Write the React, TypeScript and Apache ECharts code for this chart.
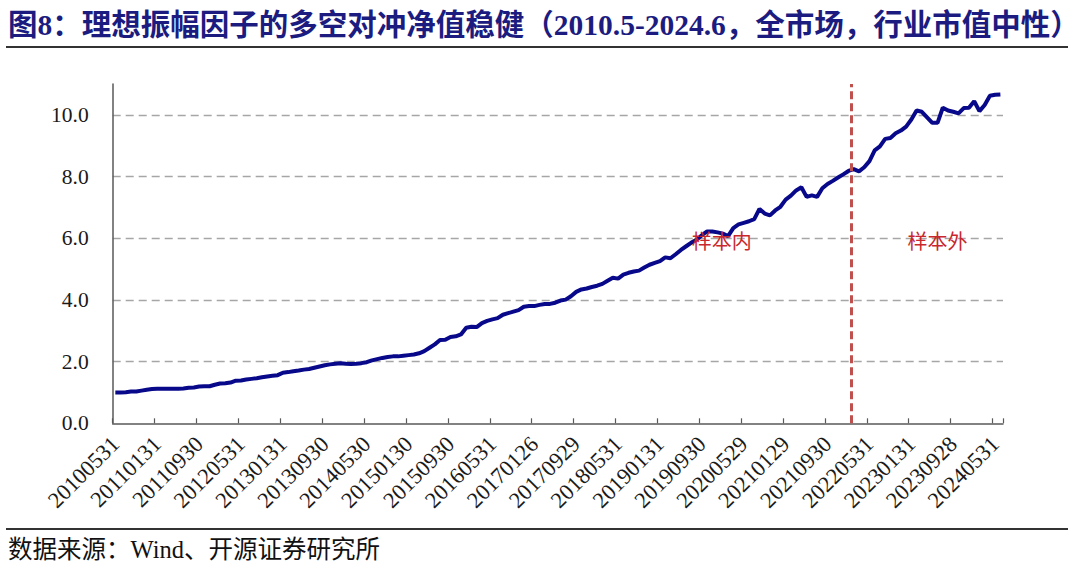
import React, { useEffect, useRef } from "react";
import * as echarts from "echarts";

const titleText =
  "图8：理想振幅因子的多空对冲净值稳健（2010.5-2024.6，全市场，行业市值中性）";
const sourceText = "数据来源：Wind、开源证券研究所";

const tickLabels = [
  "20100531", "20110131", "20110930", "20120531", "20130131", "20130930",
  "20140530", "20150130", "20150930", "20160531", "20170126", "20170929",
  "20180531", "20190131", "20190930", "20200529", "20210129", "20210930",
  "20220531", "20230131", "20230928", "20240531",
];

const netValue = [
  1.00, 1.00, 1.01, 1.03, 1.03, 1.06, 1.09, 1.11, 1.12, 1.12,
  1.12, 1.12, 1.12, 1.13, 1.15, 1.16, 1.19, 1.20, 1.20, 1.25,
  1.29, 1.30, 1.32, 1.38, 1.39, 1.42, 1.44, 1.46, 1.49, 1.52,
  1.54, 1.56, 1.64, 1.66, 1.69, 1.71, 1.74, 1.76, 1.80, 1.84,
  1.88, 1.91, 1.93, 1.95, 1.93, 1.92, 1.93, 1.95, 1.98, 2.04,
  2.08, 2.12, 2.15, 2.17, 2.17, 2.19, 2.21, 2.23, 2.27, 2.34,
  2.45, 2.56, 2.70, 2.71, 2.80, 2.82, 2.88, 3.10, 3.13, 3.12,
  3.25, 3.32, 3.37, 3.41, 3.52, 3.57, 3.62, 3.67, 3.78, 3.80,
  3.80, 3.84, 3.87, 3.87, 3.91, 3.98, 4.01, 4.12, 4.26, 4.34,
  4.37, 4.42, 4.46, 4.52, 4.62, 4.72, 4.69, 4.82, 4.88, 4.92,
  4.95, 5.05, 5.14, 5.20, 5.26, 5.38, 5.35, 5.48, 5.62, 5.74,
  5.86, 5.95, 6.10, 6.22, 6.22, 6.19, 6.15, 6.07, 6.33, 6.45,
  6.50, 6.55, 6.62, 6.95, 6.80, 6.74, 6.90, 7.02, 7.25, 7.38,
  7.55, 7.65, 7.34, 7.39, 7.34, 7.62, 7.76, 7.86, 7.97, 8.07,
  8.18, 8.24, 8.17, 8.30, 8.50, 8.85, 8.98, 9.22, 9.25, 9.40,
  9.49, 9.62, 9.85, 10.14, 10.10, 9.92, 9.74, 9.74, 10.23, 10.14,
  10.10, 10.05, 10.22, 10.23, 10.44, 10.12, 10.32, 10.62, 10.65, 10.66,
];

// monthly categories 2010-05 .. 2024-06
const categories: string[] = [];
{
  let y = 2010;
  let m = 5;
  while (categories.length < netValue.length) {
    categories.push(`${y}${String(m).padStart(2, "0")}`);
    m += 1;
    if (m > 12) {
      m = 1;
      y += 1;
    }
  }
}

const splitPosition = 141; // boundary between in-sample and out-of-sample
const sampleLabels = [
  { name: "样本内", pos: 116.3, value: 5.92 },
  { name: "样本外", pos: 157.5, value: 5.92 },
];

const serif = '"Liberation Serif", "Times New Roman", "Noto Sans CJK SC"';

export default function App() {
  const ref = useRef<HTMLDivElement>(null);

  useEffect(() => {
    if (!ref.current) return;
    const chart = echarts.init(ref.current, undefined, { renderer: "svg" });
    chart.setOption({
      animation: false,
      backgroundColor: "#ffffff",
      grid: { left: 112.7, right: 77, top: 84, bottom: 151.7, containLabel: false },
      xAxis: [
        {
          type: "category",
          data: categories,
          boundaryGap: true,
          axisLine: { lineStyle: { color: "#595959", width: 1.5 } },
          axisTick: {
            show: true,
            inside: true,
            length: 5,
            interval: 7,
            lineStyle: { color: "#595959", width: 1.2 },
          },
          axisLabel: {
            interval: 7,
            rotate: 45,
            margin: 17,
            fontSize: 22.5,
            fontFamily: serif,
            color: "#1a1a1a",
            formatter: (_v: string, i: number) =>
              i % 8 === 0 ? tickLabels[i / 8] ?? "" : "",
          },
          splitLine: { show: false },
        },
        {
          type: "value",
          min: 0,
          max: netValue.length,
          show: false,
          splitLine: { show: false },
        },
      ],
      yAxis: {
        type: "value",
        min: 0,
        max: 11,
        interval: 2,
        axisLine: { show: true, lineStyle: { color: "#595959", width: 1.5 } },
        axisTick: { show: false },
        axisLabel: {
          margin: 24,
          fontSize: 21.5,
          fontFamily: serif,
          color: "#1a1a1a",
          showMaxLabel: false,
          formatter: (v: number) => (v > 10 ? "" : v.toFixed(1)),
        },
        splitLine: {
          show: true,
          showMinLine: false,
          showMaxLine: false,
          lineStyle: { color: "#A6A6A6", type: [8, 5], width: 1.3 },
        },
      },
      series: [
        {
          type: "line",
          data: netValue,
          symbol: "none",
          smooth: false,
          lineStyle: { color: "#08088A", width: 4 },
          z: 3,
        },
        {
          type: "line",
          xAxisIndex: 1,
          yAxisIndex: 0,
          data: [],
          symbol: "none",
          markLine: {
            silent: true,
            symbol: "none",
            label: { show: false },
            lineStyle: { color: "#C0504D", type: [8, 4], width: 3 },
            data: [{ xAxis: splitPosition }],
          },
          markPoint: {
            silent: true,
            symbol: "rect",
            symbolSize: 0,
            label: {
              show: true,
              position: "inside",
              formatter: "{b}",
              color: "#C8282D",
              fontSize: 20,
              fontFamily: '"Noto Sans CJK SC"',
            },
            data: sampleLabels.map((s) => ({ name: s.name, coord: [s.pos, s.value] })),
          },
          z: 4,
        },
      ],
      graphic: [
        {
          type: "text",
          left: 8,
          top: 10,
          style: {
            text: titleText,
            fontSize: 29.5,
            fontWeight: "bold",
            fontFamily: serif,
            fill: "#1C1C80",
          },
        },
        {
          type: "line",
          shape: { x1: 6, y1: 47, x2: 1068, y2: 47 },
          style: { stroke: "#333333", lineWidth: 2 },
        },
        {
          type: "line",
          shape: { x1: 6, y1: 529, x2: 1068, y2: 529 },
          style: { stroke: "#333333", lineWidth: 2 },
        },
        {
          type: "text",
          left: 8,
          top: 537,
          style: {
            text: sourceText,
            fontSize: 24.5,
            fontFamily: serif,
            fill: "#111111",
          },
        },
      ],
    });
    return () => chart.dispose();
  }, []);

  return (
    <div
      ref={ref}
      style={{ position: "fixed", left: 0, top: 0, width: 1080, height: 575 }}
    />
  );
}
